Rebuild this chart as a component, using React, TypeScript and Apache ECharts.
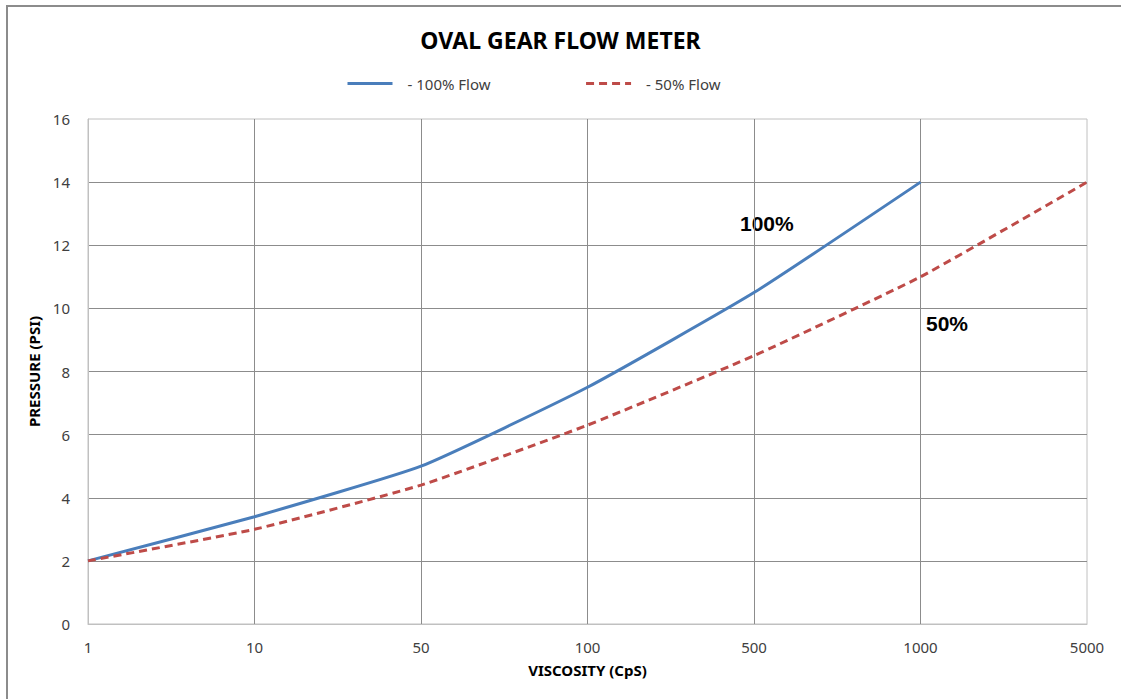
import React, { useEffect, useRef } from "react";
import * as echarts from "echarts";

const categories = ["1", "10", "50", "100", "500", "1000", "5000"];
const flow100 = [2, 3.4, 5, 7.5, 10.5, 14, null];
const flow50 = [2, 3.0, 4.4, 6.3, 8.5, 11, 14];
const yTicks = { min: 0, max: 16, interval: 2 };
const titleText = "OVAL GEAR FLOW METER";
const seriesNames = ["- 100% Flow", "- 50% Flow"];
const annotations = ["100%", "50%"];

export default function App() {
  const ref = useRef<HTMLDivElement>(null);
  useEffect(() => {
    if (!ref.current) return;
    const chart = echarts.init(ref.current, null, { renderer: "svg" });
    const font = "'Noto Sans', 'Open Sans', sans-serif";
    chart.setOption({
      animation: false,
      backgroundColor: "#ffffff",
      title: {
        text: titleText,
        left: "center",
        top: 23,
        textStyle: { fontFamily: font, fontSize: 23, fontWeight: "bold", color: "#000" },
      },
      legend: {
        left: 341,
        top: 71,
        itemWidth: 45,
        itemHeight: 14,
        itemGap: 94,
        itemStyle: { opacity: 0 },
        lineStyle: { width: 3 },
        textStyle: { fontFamily: font, fontSize: 15, color: "#404040", padding: [0, 0, 0, 10] },
        data: seriesNames,
      },
      grid: {
        left: 88,
        right: 34,
        top: 119,
        bottom: 75,
        show: true,
        borderColor: "#c0c0c0",
        borderWidth: 1,
      },
      xAxis: {
        type: "category",
        data: categories,
        boundaryGap: false,
        name: "VISCOSITY (CpS)",
        nameLocation: "middle",
        nameGap: 38,
        nameTextStyle: { fontFamily: font, fontSize: 15, fontWeight: "bold", color: "#000" },
        axisLine: { lineStyle: { color: "#c0c0c0" } },
        axisTick: { show: false },
        axisLabel: { fontFamily: font, fontSize: 15, color: "#404040", margin: 15 },
        splitLine: { show: true, showMinLine: false, showMaxLine: false, lineStyle: { color: "#8c8c8c", width: 1 } },
      },
      yAxis: {
        type: "value",
        min: yTicks.min,
        max: yTicks.max,
        interval: yTicks.interval,
        name: "PRESSURE (PSI)",
        nameLocation: "middle",
        nameGap: 40,
        nameRotate: 90,
        nameTextStyle: { fontFamily: font, fontSize: 15, fontWeight: "bold", color: "#000" },
        axisLine: { show: true, lineStyle: { color: "#c0c0c0" } },
        axisTick: { show: false },
        axisLabel: { fontFamily: font, fontSize: 15, color: "#404040", margin: 18 },
        splitLine: { show: true, showMinLine: false, showMaxLine: false, lineStyle: { color: "#8c8c8c", width: 1 } },
      },
      series: [
        {
          name: seriesNames[0],
          type: "line",
          data: flow100,
          symbol: "none",
          smooth: 0.15,
          lineStyle: { color: "#4a7ebb", width: 3 },
          itemStyle: { color: "#4a7ebb" },
        },
        {
          name: seriesNames[1],
          type: "line",
          data: flow50,
          symbol: "none",
          smooth: 0.15,
          lineStyle: { color: "#be4b48", width: 3, type: [8, 5] },
          itemStyle: { color: "#be4b48" },
        },
      ],
      graphic: [
        {
          type: "rect",
          shape: { x: 7, y: 6, width: 1300, height: 900 },
          style: { fill: "none", stroke: "#8c8c8c", lineWidth: 2 },
          silent: true,
        },
        {
          type: "text",
          left: 740,
          top: 213,
          style: { text: annotations[0], font: "bold 21px 'Liberation Sans', Arial, sans-serif", fill: "#000" },
        },
        {
          type: "text",
          left: 926,
          top: 313,
          style: { text: annotations[1], font: "bold 21px 'Liberation Sans', Arial, sans-serif", fill: "#000" },
        },
      ],
    });
    return () => chart.dispose();
  }, []);
  return (
    <div
      ref={ref}
      style={{ position: "absolute", left: 0, top: 0, width: 1121, height: 699 }}
    />
  );
}
